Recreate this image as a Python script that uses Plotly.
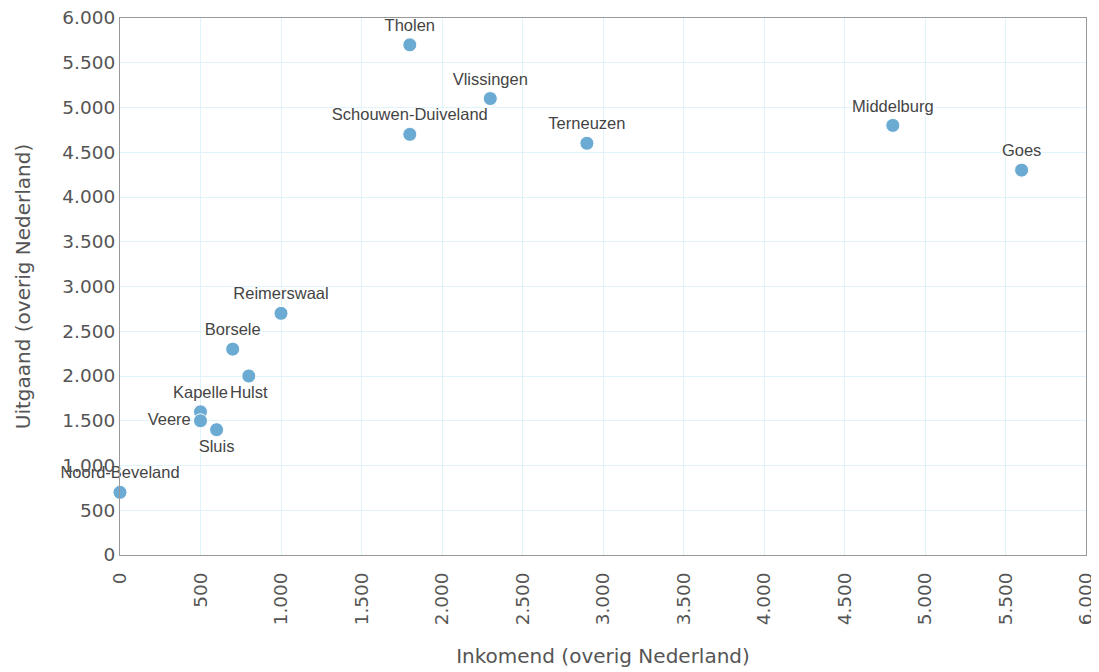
import plotly.graph_objects as go

names = ["Noord-Beveland", "Kapelle", "Veere", "Sluis", "Hulst", "Borsele", "Reimerswaal",
         "Schouwen-Duiveland", "Tholen", "Vlissingen", "Terneuzen", "Middelburg", "Goes"]
inkomend = [0, 500, 500, 600, 800, 700, 1000, 1800, 1800, 2300, 2900, 4800, 5600]
uitgaand = [700, 1600, 1500, 1400, 2000, 2300, 2700, 4700, 5700, 5100, 4600, 4800, 4300]
positions = ["top center", "top center", "middle left", "bottom center", "bottom center",
             "top center", "top center", "top center", "top center", "top center",
             "top center", "top center", "top center"]

fig = go.Figure(go.Scatter(
    x=inkomend, y=uitgaand, text=names, mode="markers+text",
    textposition=positions,
    textfont=dict(family="Liberation Sans", size=16.5, color="#444",
                  shadow="0 0 2px white, 0 0 3px white, 0 0 4px white"),
    marker=dict(size=14, color="#6aaad3", line=dict(width=1, color="white")),
    cliponaxis=False, hoverinfo="x+y+text",
))

axis_common = dict(
    range=[0, 6000], dtick=500, tickformat=",d",
    showgrid=True, gridcolor="#dff3fb", gridwidth=1,
    showline=True, linecolor="#999", linewidth=1, mirror=True,
    zeroline=False, ticks="", automargin=False, ticklabeloverflow="allow",
    tickfont=dict(family="DejaVu Sans", size=18.5, color="#555"),
)

# page body has an 8px margin, so the figure is sized to fit the 1099x672 window
fig.update_layout(
    width=1091, height=664,
    margin=dict(l=112, r=13, t=10, b=117),
    plot_bgcolor="white", paper_bgcolor="white",
    separators=",.",
    showlegend=False,
    xaxis=dict(**axis_common, tickangle=-90, ticklabelstandoff=9,
               title=dict(text="Inkomend (overig Nederland)", standoff=24,
                          font=dict(family="DejaVu Sans", size=20, color="#555"))),
    yaxis=dict(**axis_common,
               title=dict(text="Uitgaand (overig Nederland)", standoff=26,
                          font=dict(family="DejaVu Sans", size=20, color="#555"))),
)

fig.write_html("out.html")
